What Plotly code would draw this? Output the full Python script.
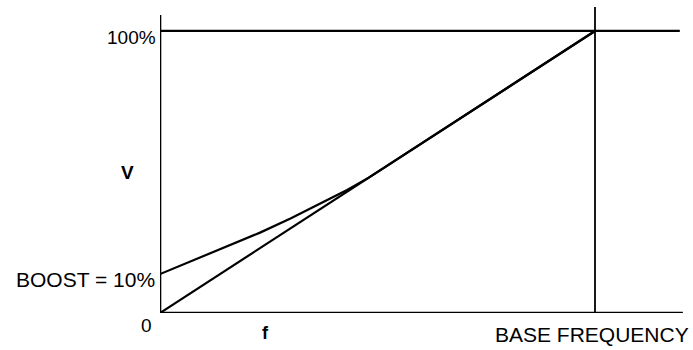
import plotly.graph_objects as go

# Data (x: frequency as % of base frequency, y: voltage %)
linear_f = [0, 100]
linear_v = [0, 100]

boost_f = [0, 23, 30, 37, 43, 48, 100]
boost_v = [13.8, 28.5, 33.5, 38.8, 43.6, 48, 100]

# frame lines
v_axis_f = [0, 0]
v_axis_v = [0, 105.7]
f_axis_f = [0, 120.2]
f_axis_v = [0, 0]
top_f = [0, 119.5]
top_v = [100, 100]
base_f = [100, 100]
base_v = [0, 108.5]

FONT = "Liberation Sans, Arial, sans-serif"
W, H = 693, 350
ML, MR, MT, MB = 160, 10, 7, 37
PW, PH = W - ML - MR, H - MT - MB

fig = go.Figure()

def line(x, y, w):
    fig.add_trace(go.Scatter(x=x, y=y, mode="lines",
                             line=dict(color="black", width=w),
                             showlegend=False, hoverinfo="skip",
                             cliponaxis=False))

line(v_axis_f, v_axis_v, 2.6)
line(f_axis_f, f_axis_v, 2.6)
line(top_f, top_v, 2.2)
line(base_f, base_v, 1.8)
line(linear_f, linear_v, 2.2)
line(boost_f, boost_v, 2.2)

def px(xp, yp):
    return (xp - ML) / PW, (H - MB - yp) / PH

annos = [
    (158, 37, "100%", "right", 19),
    (157, 279.5, "BOOST = 10%", "right", 21),
    (146, 325, "0", "center", 19),
    (127, 172, "<b>V</b>", "center", 19),
    (265, 333, "<b>f</b>", "center", 18),
    (592, 334, "BASE FREQUENCY", "center", 21),
]
for xp, yp, t, xa, fs in annos:
    x, y = px(xp, yp)
    fig.add_annotation(xref="paper", yref="paper", x=x, y=y, text=t,
                       xanchor=xa, yanchor="middle", showarrow=False,
                       font=dict(family=FONT, size=fs, color="black"))

fig.update_layout(
    width=W, height=H,
    margin=dict(l=ML, r=MR, t=MT, b=MB),
    paper_bgcolor="white", plot_bgcolor="white",
    xaxis=dict(range=[0, 120.23], visible=False, fixedrange=True),
    yaxis=dict(range=[0, 108.5], visible=False, fixedrange=True),
)

fig.write_html("out.html", config={"displayModeBar": False},
               post_script="document.body.style.margin='0';")
